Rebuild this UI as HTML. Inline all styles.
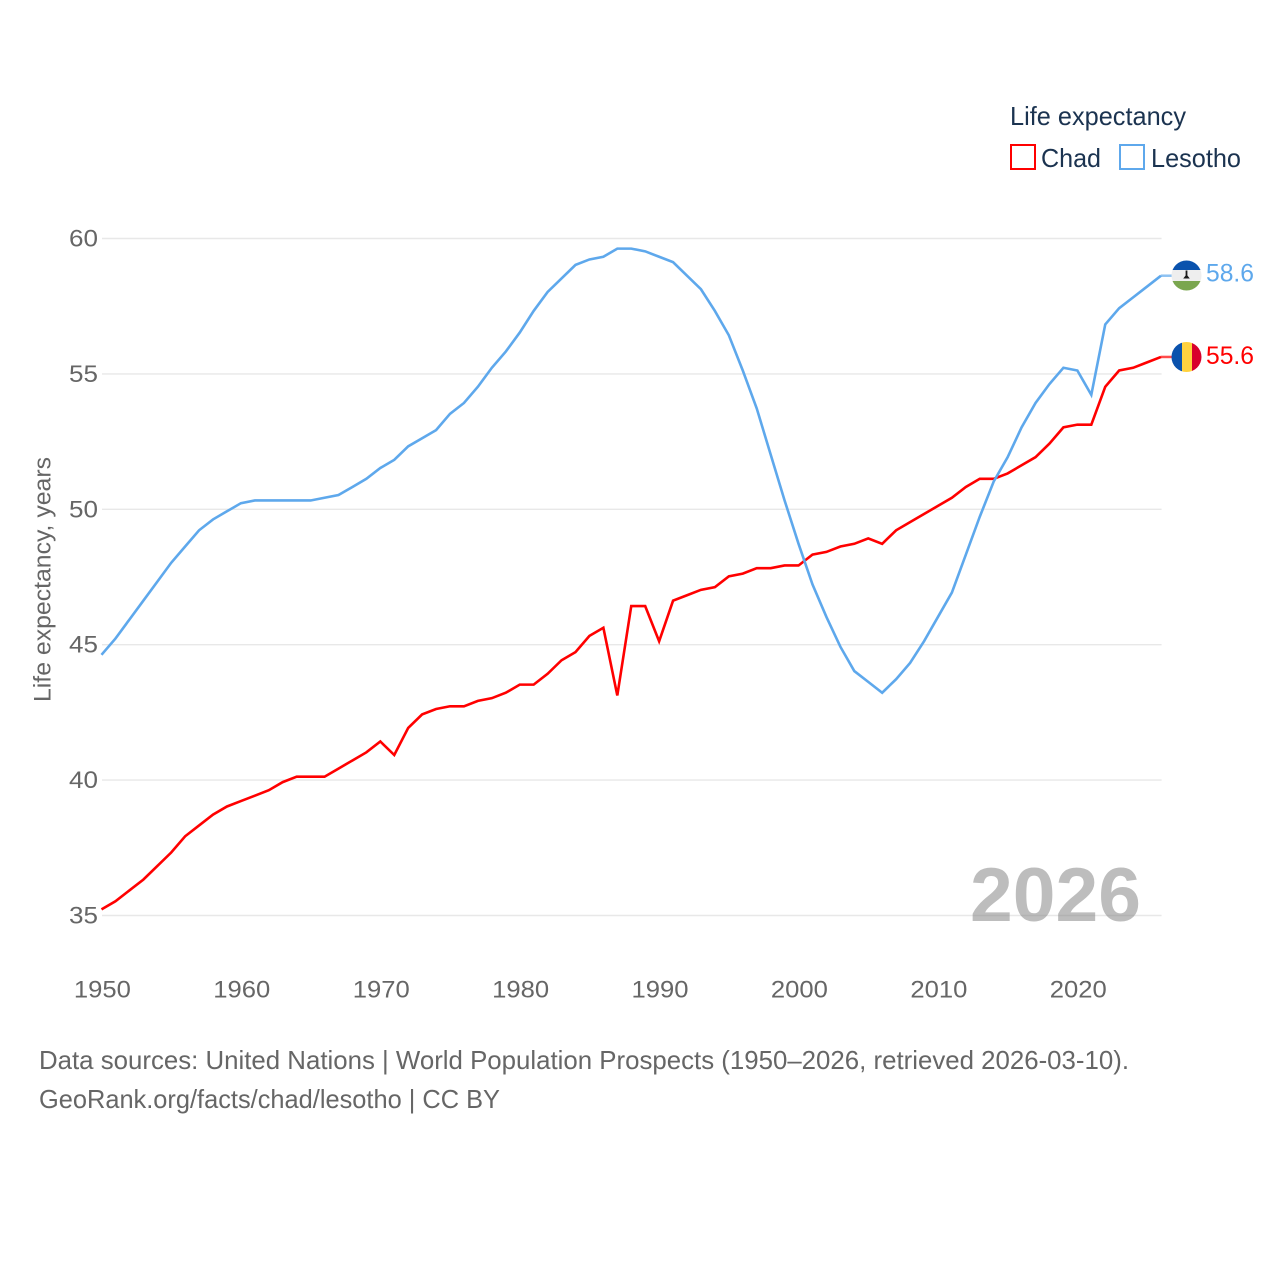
<!DOCTYPE html>
<html lang="en">
<head>
<meta charset="utf-8">
<title>Life expectancy: Chad and Lesotho</title>
<style>
  html, body { margin: 0; padding: 0; background: #fff; }
  svg { display: block; font-family: "Liberation Sans", sans-serif; }
</style>
</head>
<body>
<svg id="chart" xmlns="http://www.w3.org/2000/svg" width="1280" height="1280" viewBox="0 0 1280 1280">
  <rect x="0" y="0" width="1280" height="1280" fill="#fff"/>
  <g id="grid"></g>
  <g id="yticks"></g>
  <g id="xticks"></g>
  <text transform="translate(50.5,702) rotate(-90)" font-size="24" fill="#666" textLength="245" lengthAdjust="spacingAndGlyphs">Life expectancy, years</text>
  <text x="970" y="921" font-size="76" font-weight="700" fill="#808080" fill-opacity="0.52" textLength="171" lengthAdjust="spacingAndGlyphs">2026</text>
  <g id="series"></g>

  <g>
    <text x="1010" y="125" font-size="26" fill="#1b3350" textLength="176" lengthAdjust="spacingAndGlyphs">Life expectancy</text>
    <g>
      <rect x="1011" y="145" width="24" height="24" fill="none" stroke="#ff0000" stroke-width="2"/>
      <text x="1041" y="167" font-size="26" fill="#1b3350" textLength="60" lengthAdjust="spacingAndGlyphs">Chad</text>
    </g>
    <g>
      <rect x="1120" y="145" width="24" height="24" fill="none" stroke="#5ea8ec" stroke-width="2"/>
      <text x="1151" y="167" font-size="26" fill="#1b3350" textLength="90" lengthAdjust="spacingAndGlyphs">Lesotho</text>
    </g>
  </g>

  <defs>
    <clipPath id="flag-clip-lesotho"><circle cx="1186.5" cy="275.5" r="15"/></clipPath>
    <clipPath id="flag-clip-chad"><circle cx="1186.5" cy="357" r="15"/></clipPath>
  </defs>
  <g clip-path="url(#flag-clip-lesotho)">
    <rect x="1171" y="260" width="31" height="10" fill="#0a52ad"/>
    <rect x="1171" y="270" width="31" height="11" fill="#eeeeee"/>
    <rect x="1171" y="281" width="31" height="11" fill="#7aa64f"/>
    <path d="M1185.6 270.5h1.8v5l2.4 3h-6.6l2.4-3z" fill="#1a1a1a"/>
  </g>
  <g clip-path="url(#flag-clip-chad)">
    <rect x="1171" y="341" width="11" height="32" fill="#0a52ad"/>
    <rect x="1182" y="341" width="10" height="32" fill="#ffd23f"/>
    <rect x="1192" y="341" width="11" height="32" fill="#d8002c"/>
  </g>
  <text x="1206" y="281.5" font-size="25" fill="#5ea8ec" textLength="48" lengthAdjust="spacingAndGlyphs">58.6</text>
  <text x="1206" y="364" font-size="25" fill="#ff0000" textLength="48" lengthAdjust="spacingAndGlyphs">55.6</text>

  <g>
    <text x="39" y="1069" font-size="26" fill="#666" textLength="1090" lengthAdjust="spacingAndGlyphs">Data sources: United Nations | World Population Prospects (1950–2026, retrieved 2026-03-10).</text>
    <text x="39" y="1108" font-size="26" fill="#666" textLength="461" lengthAdjust="spacingAndGlyphs">GeoRank.org/facts/chad/lesotho | CC BY</text>
  </g>
</svg>
<script>
const firstYear = 1950;
const chadValues = [35.2,35.5,35.9,36.3,36.8,37.3,37.9,38.3,38.7,39.0,39.2,39.4,39.6,39.9,40.1,40.1,40.1,40.4,40.7,41.0,41.4,40.9,41.9,42.4,42.6,42.7,42.7,42.9,43.0,43.2,43.5,43.5,43.9,44.4,44.7,45.3,45.6,43.1,46.4,46.4,45.1,46.6,46.8,47.0,47.1,47.5,47.6,47.8,47.8,47.9,47.9,48.3,48.4,48.6,48.7,48.9,48.7,49.2,49.5,49.8,50.1,50.4,50.8,51.1,51.1,51.3,51.6,51.9,52.4,53.0,53.1,53.1,54.5,55.1,55.2,55.4,55.6];
const lesothoValues = [44.6,45.2,45.9,46.6,47.3,48.0,48.6,49.2,49.6,49.9,50.2,50.3,50.3,50.3,50.3,50.3,50.4,50.5,50.8,51.1,51.5,51.8,52.3,52.6,52.9,53.5,53.9,54.5,55.2,55.8,56.5,57.3,58.0,58.5,59.0,59.2,59.3,59.6,59.6,59.5,59.3,59.1,58.6,58.1,57.3,56.4,55.1,53.7,52.0,50.3,48.7,47.2,46.0,44.9,44.0,43.6,43.2,43.7,44.3,45.1,46.0,46.9,48.3,49.7,51.0,51.9,53.0,53.9,54.6,55.2,55.1,54.2,56.8,57.4,57.8,58.2,58.6];
const yTickValues = [35,40,45,50,55,60];
const xTickValues = [1950,1960,1970,1980,1990,2000,2010,2020];

const NS = 'http://www.w3.org/2000/svg';
const xScale = function (year) { return 101.5 + (year - 1950) * (1161 - 101.5) / 76; };
const yScale = function (v) { return 914.8 - (v - 35) * (914.8 - 237.8) / 25; };

const gridGroup = document.getElementById('grid');
const yTickGroup = document.getElementById('yticks');
const xTickGroup = document.getElementById('xticks');
const seriesGroup = document.getElementById('series');

yTickValues.forEach(function (v) {
  const line = document.createElementNS(NS, 'line');
  
  
  line.setAttribute('x1', 102);
  line.setAttribute('x2', 1161.6);
  line.setAttribute('y1', yScale(v) + 0.7);
  line.setAttribute('y2', yScale(v) + 0.7);
  line.setAttribute('stroke', '#e8e8e8');
  line.setAttribute('stroke-width', 1.4);
  gridGroup.appendChild(line);

  const label = document.createElementNS(NS, 'text');
  
  
  label.setAttribute('x', 98);
  label.setAttribute('y', yScale(v) + 8.7);
  label.setAttribute('text-anchor', 'end');
  label.setAttribute('font-size', 24.5);
  label.setAttribute('fill', '#666');
  label.setAttribute('textLength', 29);
  label.setAttribute('lengthAdjust', 'spacingAndGlyphs');
  label.textContent = String(v);
  yTickGroup.appendChild(label);
});

xTickValues.forEach(function (yr) {
  const label = document.createElementNS(NS, 'text');
  
  
  label.setAttribute('x', xScale(yr) + 0.9);
  label.setAttribute('y', 997.5);
  label.setAttribute('text-anchor', 'middle');
  label.setAttribute('font-size', 24.5);
  label.setAttribute('fill', '#666');
  label.setAttribute('textLength', 57);
  label.setAttribute('lengthAdjust', 'spacingAndGlyphs');
  label.textContent = String(yr);
  xTickGroup.appendChild(label);
});

function pointsFor(values) {
  return values.map(function (v, i) {
    return xScale(firstYear + i).toFixed(2) + ',' + yScale(v).toFixed(2);
  });
}

function drawConnector(values, color) {
  const last = values[values.length - 1];
  const y = yScale(last);
  const path = document.createElementNS(NS, 'line');
  path.setAttribute('x1', xScale(firstYear + values.length - 1));
  path.setAttribute('x2', xScale(firstYear + values.length - 1) + 11);
  path.setAttribute('y1', y);
  path.setAttribute('y2', y);
  path.setAttribute('stroke', color);
  path.setAttribute('stroke-opacity', 0.7);
  path.setAttribute('stroke-width', 2.5);
  return path;
}

const chadConnector = drawConnector(chadValues, '#ff0000');


seriesGroup.appendChild(chadConnector);

const lesothoConnector = drawConnector(lesothoValues, '#5ea8ec');


seriesGroup.appendChild(lesothoConnector);

const chadLine = document.createElementNS(NS, 'polyline');


chadLine.setAttribute('points', pointsFor(chadValues).join(' '));
chadLine.setAttribute('fill', 'none');
chadLine.setAttribute('stroke', '#ff0000');
chadLine.setAttribute('stroke-width', 2.6);
chadLine.setAttribute('stroke-linejoin', 'miter');
seriesGroup.appendChild(chadLine);

const lesothoLine = document.createElementNS(NS, 'polyline');


lesothoLine.setAttribute('points', pointsFor(lesothoValues).join(' '));
lesothoLine.setAttribute('fill', 'none');
lesothoLine.setAttribute('stroke', '#5ea8ec');
lesothoLine.setAttribute('stroke-width', 2.6);
lesothoLine.setAttribute('stroke-linejoin', 'miter');
seriesGroup.appendChild(lesothoLine);
</script>
</body>
</html>
